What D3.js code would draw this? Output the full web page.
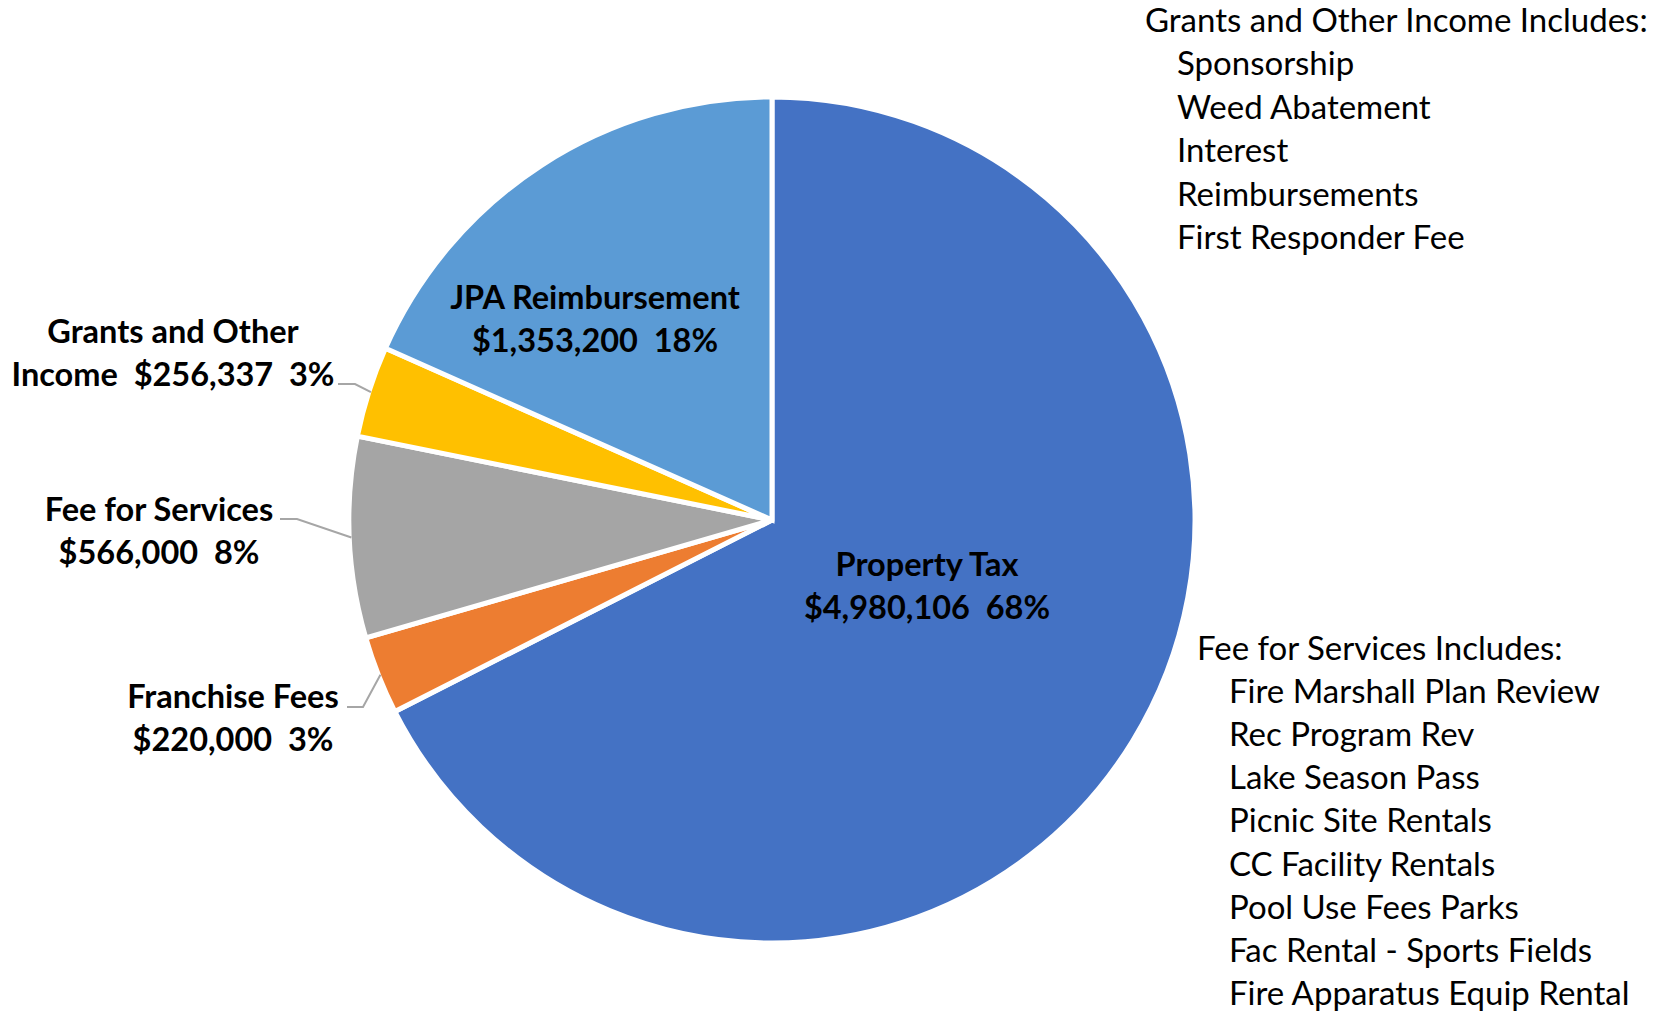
<!DOCTYPE html>
<html>
<head>
<meta charset="utf-8">
<script src="https://cdn.jsdelivr.net/npm/d3@7"></script>
<style>
  html, body { margin: 0; padding: 0; background: #fff; }
  svg { display: block; }
  text { font-family: Lato, "Open Sans", sans-serif; white-space: pre; }
</style>
</head>
<body>
<svg id="chart" width="1662" height="1013"></svg>
<script>
// ---- data ----
const categories = ["Property Tax", "Franchise Fees", "Fee for Services", "Grants and Other Income", "JPA Reimbursement"];
const values = [4980106, 220000, 566000, 256337, 1353200];
const colors = ["#4472C4", "#ED7D31", "#A5A5A5", "#FFC000", "#5B9BD5"];
// label line breaks (first line text; the value line follows)
const labelFirstLines = ["Property Tax", "Franchise Fees", "Fee for Services", "Grants and Other", "JPA Reimbursement"];
const labelValuePrefix = ["", "", "", "Income  ", ""];
const grantsNoteTitle = "Grants and Other Income Includes:";
const grantsNoteItems = ["Sponsorship", "Weed Abatement", "Interest", "Reimbursements", "First Responder Fee"];
const feeNoteTitle = "Fee for Services Includes:";
const feeNoteItems = ["Fire Marshall Plan Review", "Rec Program Rev", "Lake Season Pass", "Picnic Site Rentals", "CC Facility Rentals", "Pool Use Fees Parks", "Fac Rental - Sports Fields", "Fire Apparatus Equip Rental"];

// ---- layout ----
const cx = 772, cy = 520, R = 423;
const labelPos = [
  {x: 927, y: 576, leader: null},
  {x: 233, y: 708, leader: [[347, 707], [363, 707]]},
  {x: 159, y: 521, leader: [[280, 519], [297, 519]]},
  {x: 173, y: 343, leader: [[338, 384], [355, 384]]},
  {x: 595, y: 309, leader: null}
];
const lineGap = 42.5;

const svg = d3.select("#chart");
const total = d3.sum(values);
const fmtMoney = d3.format("$,");
const data = categories.map((c, i) => ({c, v: values[i], i}));

const pie = d3.pie().value(d => d.v).sort(null).startAngle(0).endAngle(2 * Math.PI);
const arcs = pie(data);
const arc = d3.arc().innerRadius(0).outerRadius(R);
const g = svg.append("g").attr("transform", `translate(${cx},${cy})`);

g.selectAll("path").data(arcs).join("path")
  .attr("d", arc)
  .attr("fill", d => colors[d.data.i])
  .attr("stroke", "#fff")
  .attr("stroke-width", 5)
  .attr("stroke-linejoin", "miter");

// leader lines
const rEdge = R - 2;
arcs.forEach(a => {
  const p = labelPos[a.data.i];
  if (!p.leader) return;
  const mid = (a.startAngle + a.endAngle) / 2;
  const ex = cx + rEdge * Math.sin(mid), ey = cy - rEdge * Math.cos(mid);
  const pts = [...p.leader, [ex, ey]];
  svg.append("path")
    .attr("d", d3.line()(pts))
    .attr("fill", "none")
    .attr("stroke", "#A6A6A6")
    .attr("stroke-width", 2);
});

// labels
arcs.forEach(a => {
  const i = a.data.i;
  const p = labelPos[i];
  const pct = Math.round(a.data.v / total * 100) + "%";
  const t = svg.append("text")
    .attr("text-anchor", "middle")
    .attr("font-weight", 700)
    .attr("font-size", 32.5)
    .attr("fill", "#000");
  t.append("tspan").attr("x", p.x).attr("y", p.y).text(labelFirstLines[i]);
  t.append("tspan").attr("x", p.x).attr("y", p.y + lineGap)
    .text(labelValuePrefix[i] + fmtMoney(a.data.v) + "  " + pct);
});

// notes
function note(x, y, indent, gap, title, items) {
  const t = svg.append("text").attr("font-size", 33).attr("fill", "#000");
  t.append("tspan").attr("x", x).attr("y", y).text(title);
  items.forEach((s, k) => {
    t.append("tspan").attr("x", x + indent).attr("y", y + (k + 1) * gap).text(s);
  });
}
note(1145, 32, 32, 43.4, grantsNoteTitle, grantsNoteItems);
note(1197, 660, 32, 43.1, feeNoteTitle, feeNoteItems);
</script>
</body>
</html>
